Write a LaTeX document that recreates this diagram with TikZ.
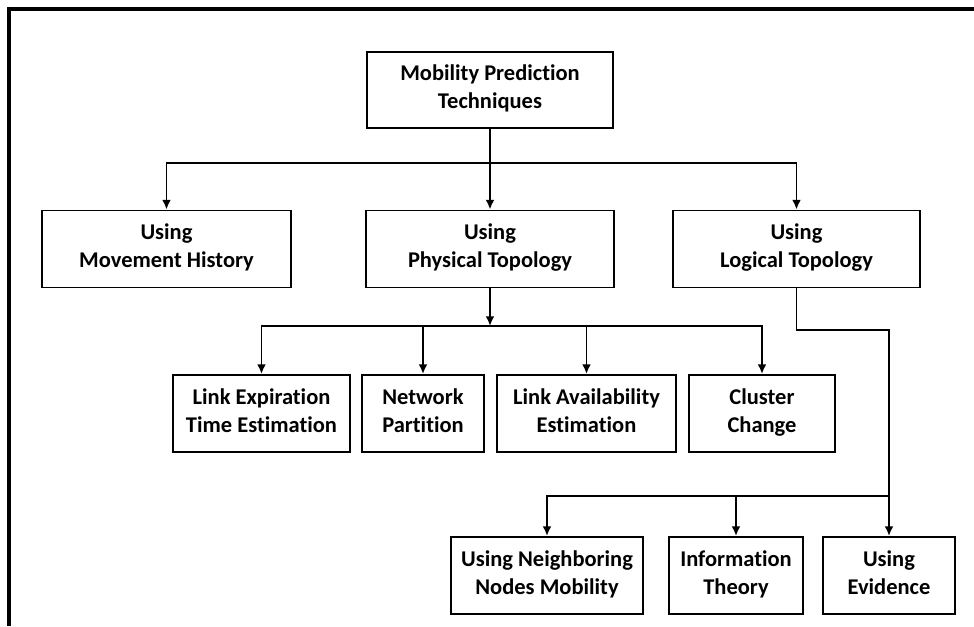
\documentclass[tikz,border=0pt]{standalone}
\usepackage{fontspec}
\setmainfont{Carlito}[Ligatures=NoCommon]
\usetikzlibrary{arrows.meta}

% line struts, a little lower than \strut
\newcommand{\topstrut}{\rule{0pt}{21.2pt}}
\newcommand{\botstrut}{\rule[-3.6pt]{0pt}{3.6pt}}

\begin{document}
\begin{tikzpicture}[x=0.02cm, y=-0.02cm,
    box/.style={draw, line width=1.1pt, align=center, inner sep=0pt,
      font=\fontsize{12.8}{16}\selectfont\bfseries, minimum height=1.54cm,
      execute at begin node=\topstrut, execute at end node=\botstrut}]
    \useasboundingbox (0,0) rectangle (974,626);
    \draw[line width=2.2pt] (974,9) -- (9,9) -- (9,626);
    \begin{scope}[every node/.style={box}]
      \node[minimum width=4.92cm, minimum height=1.52cm] (root) at (490,90)
        {Mobility Prediction\\Techniques};
      \node[minimum width=4.98cm] (hist) at (166.5,249) {Using\\Movement History};
      \node[minimum width=4.96cm] (phys) at (490,249) {Using\\Physical Topology};
      \node[minimum width=4.94cm] (logic) at (796.5,249) {Using\\Logical Topology};
      \node[minimum width=3.54cm] (lete) at (261.5,413.5)
        {Link Expiration\\Time Estimation};
      \node[minimum width=2.44cm] (part) at (423,413.5) {Network\\Partition};
      \node[minimum width=3.58cm] (lae) at (586.5,413.5)
        {Link Availability\\Estimation};
      \node[minimum width=2.92cm] (clus) at (762,413.5) {Cluster\\Change};
      \node[minimum width=3.84cm] (nbr) at (547,575.5)
        {Using Neighboring\\Nodes Mobility};
      \node[minimum width=2.68cm] (info) at (736,575.5) {Information\\Theory};
      \node[minimum width=2.64cm] (evid) at (889,575.5) {Using\\Evidence};
    \end{scope}
    \coordinate (rb) at (490,163);
    \coordinate (pb) at (490,326);
    \coordinate (lk) at (889,330);
    \coordinate (lb) at (889,496);
    \begin{scope}[->, >={Latex[length=5.5pt,width=5pt]}, line width=1.1pt]
      \draw (root) -- (phys); \draw (rb) -| (hist); \draw (rb) -| (logic);
      \draw (phys) -- (pb);
      \draw (pb) -| (lete); \draw (pb) -| (part);
      \draw (pb) -| (lae); \draw (pb) -| (clus);
      \draw (logic.south) |- (lk) -- (evid);
      \draw (lb) -| (nbr); \draw (lb) -| (info);
    \end{scope}
  \end{tikzpicture}
\end{document}
